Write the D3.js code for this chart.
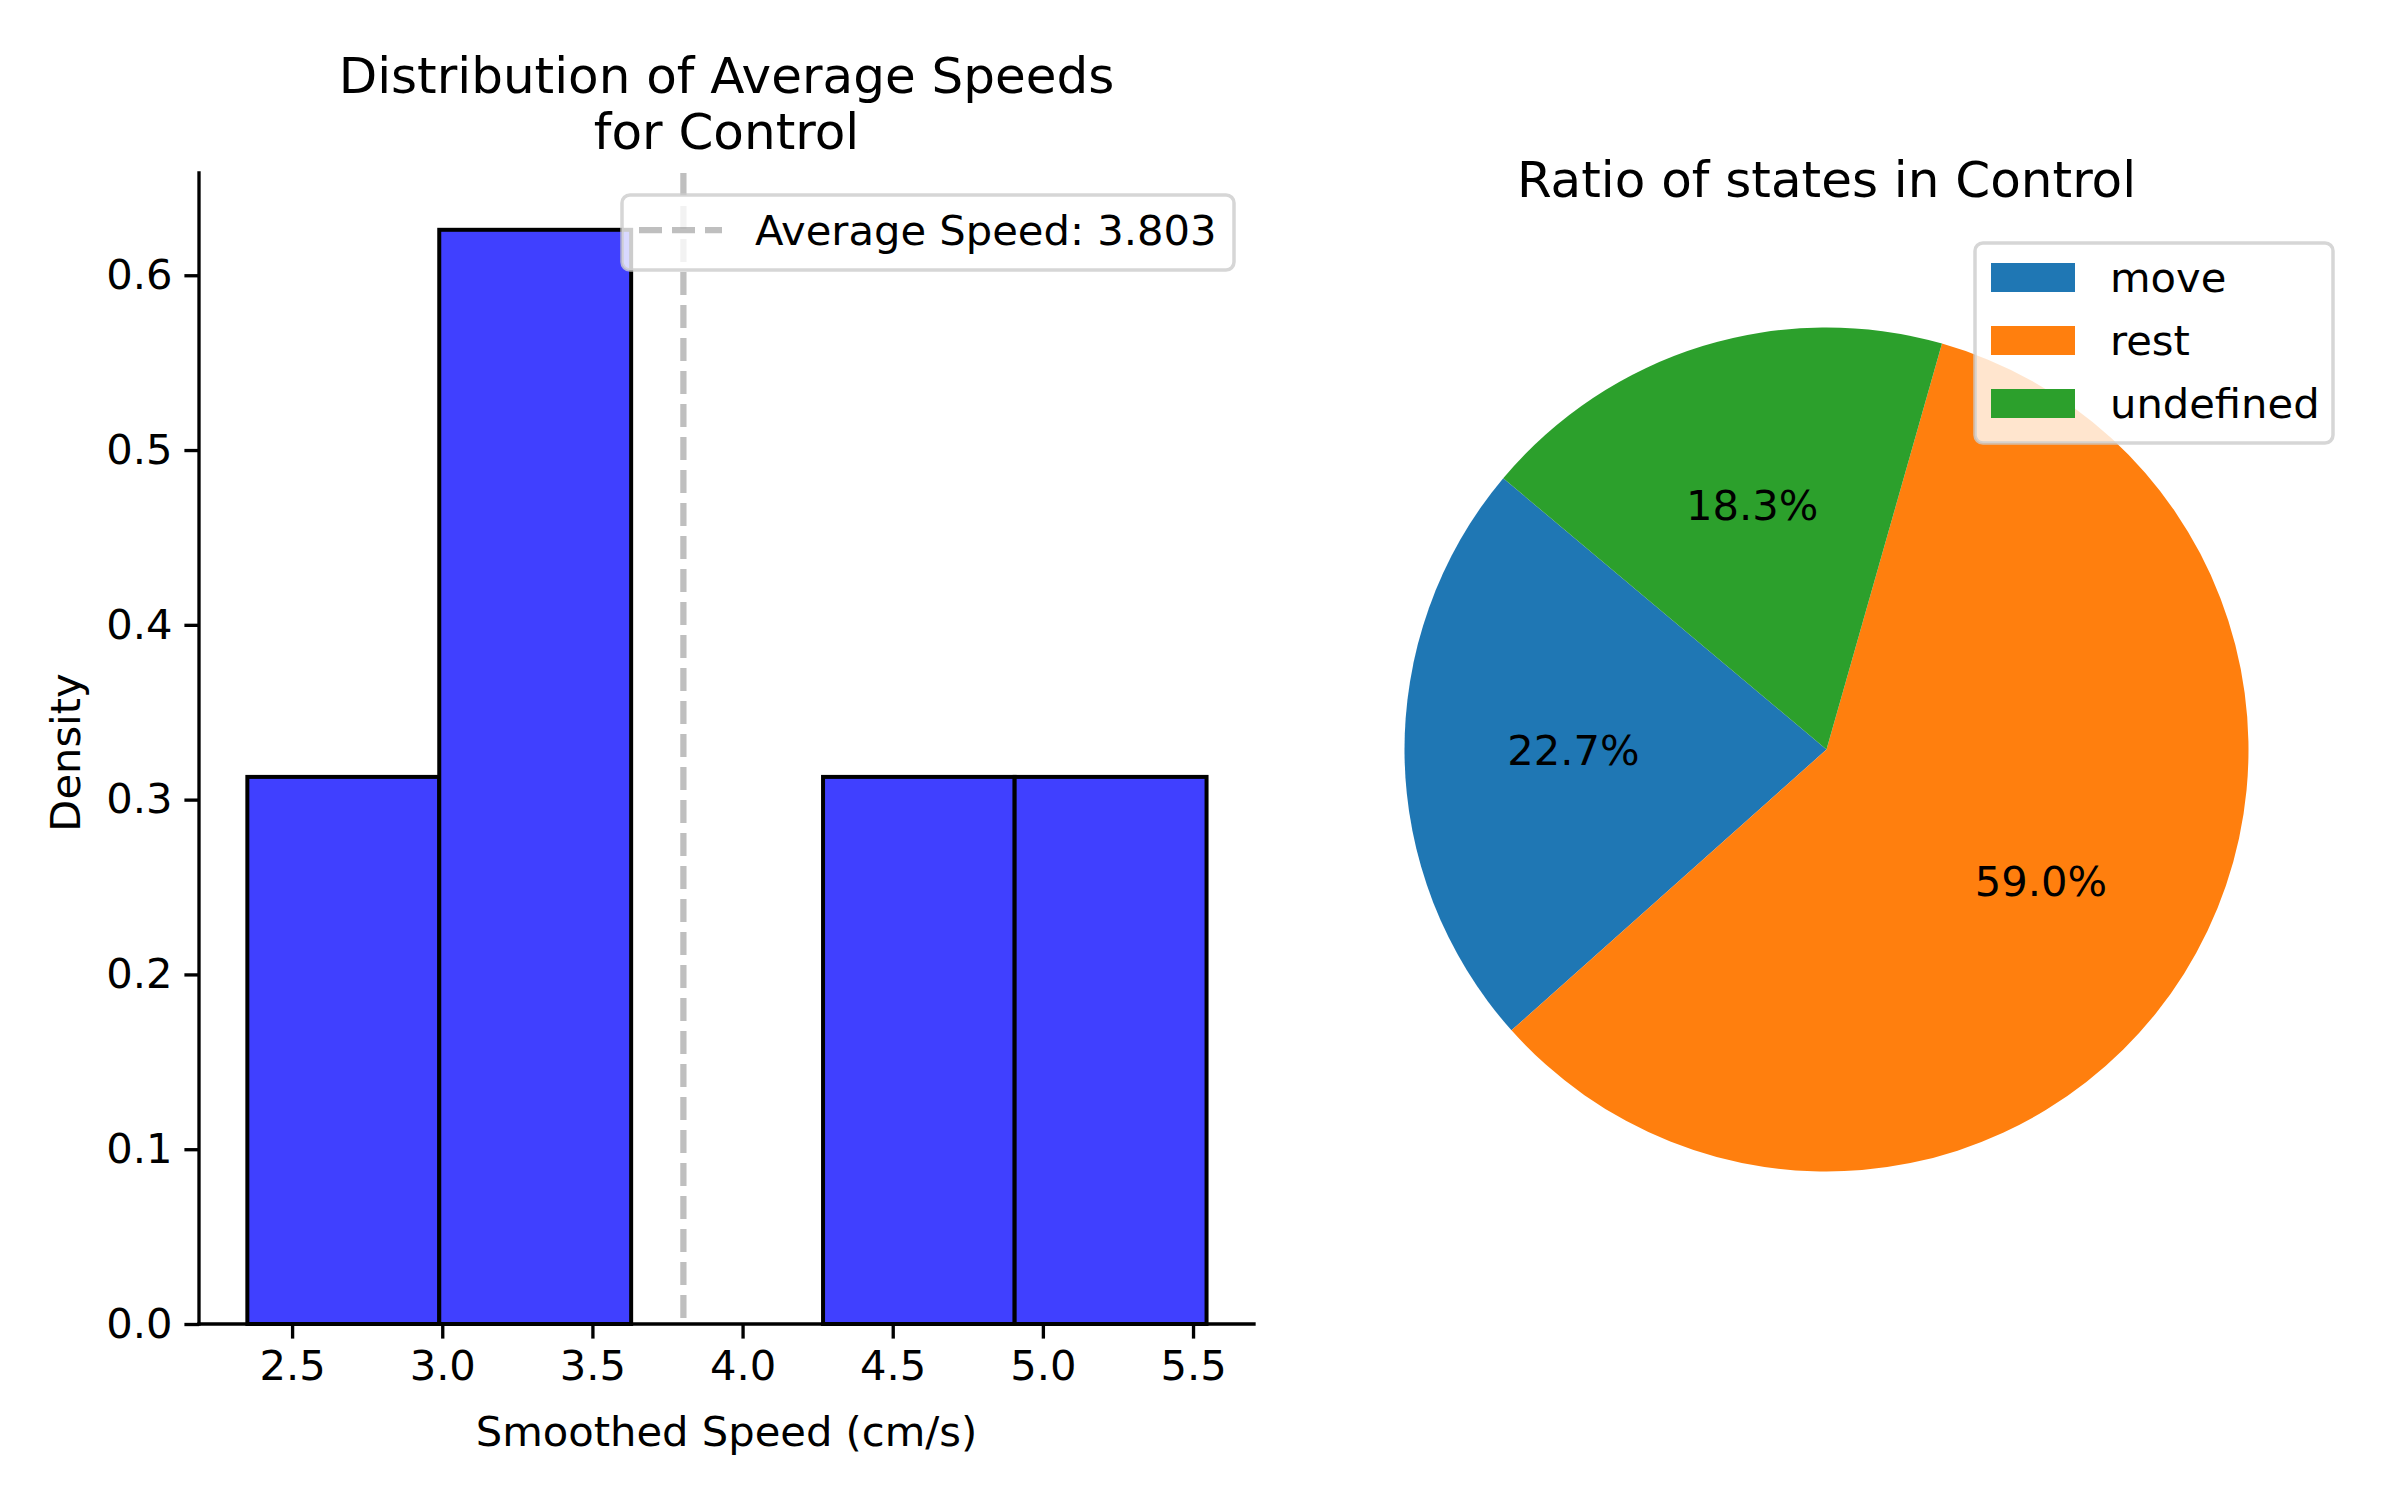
<!DOCTYPE html>
<html>
<head>
<meta charset="utf-8">
<script src="https://cdn.jsdelivr.net/npm/d3@7"></script>
<style>
  html, body { margin: 0; padding: 0; background: #fff; }
  svg text { font-family: "DejaVu Sans", sans-serif; fill: #000; }
</style>
</head>
<body>
<svg id="chart" width="2400" height="1500"></svg>
<script>
// ---------- data ----------
const binEdges = [2.351, 2.990, 3.629, 4.268, 4.906, 5.545];
const densities = [0.313, 0.626, 0.0, 0.313, 0.313];
const meanSpeed = 3.803;
const xTickValues = [2.5, 3.0, 3.5, 4.0, 4.5, 5.0, 5.5];
const yTickValues = [0.0, 0.1, 0.2, 0.3, 0.4, 0.5, 0.6];
const states = ["move", "rest", "undefined"];
const stateShares = [22.7, 59.0, 18.3];
const stateColors = ["#1f77b4", "#ff7f0e", "#2ca02c"];

// ---------- layout ----------
const svg = d3.select("#chart");
const FS = 41.67, TFS = 50;
const L = {left: 199, right: 1254, top: 173, bottom: 1324};

const x = d3.scaleLinear().domain([2.19, 5.703]).range([L.left, L.right]);
const y = d3.scaleLinear().domain([0, 0.6585]).range([L.bottom, L.top]);

const bins = densities.map((d, i) => ({x0: binEdges[i], x1: binEdges[i + 1], d}));

const gH = svg.append("g");
gH.selectAll("rect.bar").data(bins).enter().append("rect")
  .attr("class", "bar")
  .attr("x", b => x(b.x0))
  .attr("y", b => y(b.d))
  .attr("width", b => x(b.x1) - x(b.x0))
  .attr("height", b => y(0) - y(b.d))
  .attr("fill", "#4040ff")
  .attr("stroke", "#000")
  .attr("stroke-width", 4);

// mean line
gH.append("line")
  .attr("x1", x(meanSpeed)).attr("x2", x(meanSpeed))
  .attr("y1", L.top).attr("y2", L.bottom)
  .attr("stroke", "gray").attr("stroke-opacity", 0.5)
  .attr("stroke-width", 6.25).attr("stroke-dasharray", "23,10");

// axes
const xAxis = d3.axisBottom(x).tickValues(xTickValues).tickFormat(d3.format(".1f"))
  .tickSize(14.6).tickPadding(12);
const yAxis = d3.axisLeft(y).tickValues(yTickValues).tickFormat(d3.format(".1f"))
  .tickSize(14.6).tickPadding(12);

const gx = svg.append("g").attr("transform", `translate(0,${L.bottom})`).call(xAxis);
const gy = svg.append("g").attr("transform", `translate(${L.left},0)`).call(yAxis);
[gx, gy].forEach(g => {
  g.select(".domain").remove();
  g.selectAll(".tick line").attr("stroke", "#000").attr("stroke-width", 3.33);
  g.selectAll(".tick text").attr("font-size", FS).attr("font-family", "DejaVu Sans");
});
gx.selectAll(".tick text").attr("dy", "0.71em");
// spines
svg.append("line").attr("x1", L.left).attr("x2", L.right).attr("y1", L.bottom).attr("y2", L.bottom)
  .attr("stroke", "#000").attr("stroke-width", 3.33).attr("stroke-linecap", "square");
svg.append("line").attr("x1", L.left).attr("x2", L.left).attr("y1", L.top).attr("y2", L.bottom)
  .attr("stroke", "#000").attr("stroke-width", 3.33).attr("stroke-linecap", "square");

// labels
svg.append("text").attr("x", (L.left + L.right) / 2).attr("y", 1446)
  .attr("text-anchor", "middle").attr("font-size", FS).text("Smoothed Speed (cm/s)");
svg.append("text").attr("transform", `translate(80,${(L.top + L.bottom) / 2 + 4}) rotate(-90)`)
  .attr("text-anchor", "middle").attr("font-size", FS).text("Density");
svg.append("text").attr("x", (L.left + L.right) / 2).attr("y", 93)
  .attr("text-anchor", "middle").attr("font-size", TFS).text("Distribution of Average Speeds");
svg.append("text").attr("x", (L.left + L.right) / 2).attr("y", 149)
  .attr("text-anchor", "middle").attr("font-size", TFS).text("for Control");

// left legend
const lg = svg.append("g");
lg.append("rect").attr("x", 622).attr("y", 195).attr("width", 612).attr("height", 75)
  .attr("rx", 8).attr("fill", "#fff").attr("fill-opacity", 0.8)
  .attr("stroke", "#cccccc").attr("stroke-opacity", 0.8).attr("stroke-width", 3.5);
lg.append("line").attr("x1", 639).attr("x2", 722).attr("y1", 230).attr("y2", 230)
  .attr("stroke", "gray").attr("stroke-opacity", 0.5)
  .attr("stroke-width", 6.25).attr("stroke-dasharray", "23,10");
lg.append("text").attr("x", 755).attr("y", 245).attr("font-size", FS)
  .text("Average Speed: " + meanSpeed.toFixed(3));

// ---------- pie ----------
const P = {cx: 1826.5, cy: 749.5, r: 422};
const startA = (90 - 140) * Math.PI / 180;
const pie = d3.pie().sort(null).startAngle(startA).endAngle(startA - 2 * Math.PI);
const arcs = pie(stateShares);
const arc = d3.arc().innerRadius(0).outerRadius(P.r);
const labelArc = d3.arc().innerRadius(P.r * 0.6).outerRadius(P.r * 0.6);
const gp = svg.append("g").attr("transform", `translate(${P.cx},${P.cy})`);
gp.selectAll("path").data(arcs).enter().append("path")
  .attr("d", arc).attr("fill", (d, i) => stateColors[i]);
gp.selectAll("text").data(arcs).enter().append("text")
  .attr("transform", d => `translate(${labelArc.centroid(d)})`)
  .attr("text-anchor", "middle").attr("dy", "0.29em").attr("font-size", FS)
  .text(d => d.data.toFixed(1) + "%");

svg.append("text").attr("x", P.cx).attr("y", 197).attr("text-anchor", "middle")
  .attr("font-size", TFS).text("Ratio of states in Control");

// right legend
const rg = svg.append("g");
rg.append("rect").attr("x", 1975).attr("y", 243).attr("width", 358).attr("height", 200)
  .attr("rx", 8).attr("fill", "#fff").attr("fill-opacity", 0.8)
  .attr("stroke", "#cccccc").attr("stroke-opacity", 0.8).attr("stroke-width", 3.5);
const rows = rg.selectAll("g.row").data(states).enter().append("g")
  .attr("transform", (d, i) => `translate(0,${i * 63})`);
rows.append("rect").attr("x", 1991).attr("y", 263).attr("width", 84).attr("height", 29)
  .attr("fill", (d, i) => stateColors[i]);
rows.append("text").attr("x", 2110).attr("y", 292).attr("font-size", FS).text(d => d);
</script>
</body>
</html>
